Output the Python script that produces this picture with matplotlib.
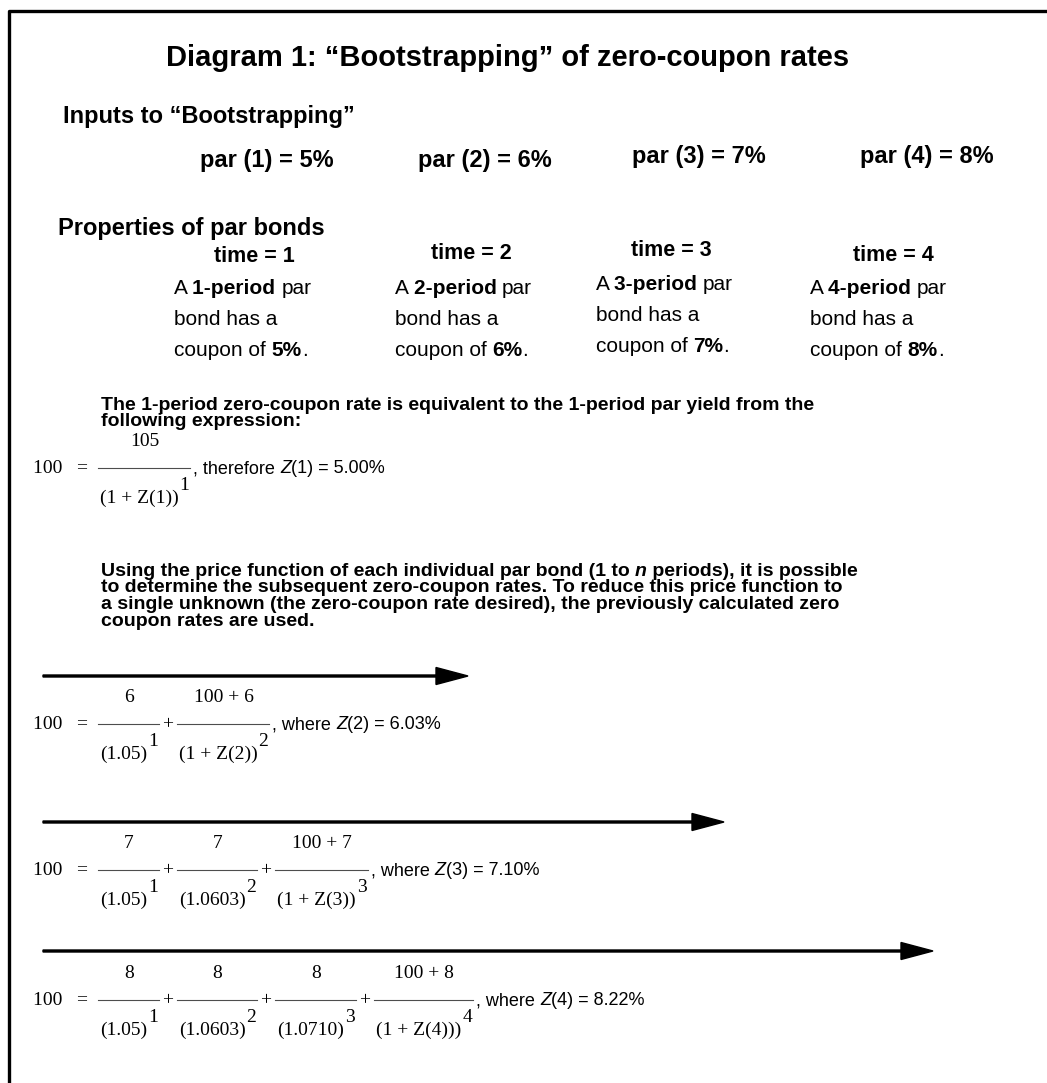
import matplotlib
matplotlib.use("Agg")
import matplotlib.pyplot as plt

W, H = 1047, 1083
SANS = "Liberation Sans"
SERIF = "Liberation Serif"

# ---- content ----
title = "Diagram 1: \u201cBootstrapping\u201d of zero-coupon rates"
periods = [1, 2, 3, 4]
par_rates = [5, 6, 7, 8]                 # par yields = coupons, %
zero_rates = [5.00, 6.03, 7.10, 8.22]    # bootstrapped Z(n), %
disc_labels = ["1.05", "1.0603", "1.0710"]  # (1 + Z(n)) reused in later equations

para1 = ["The 1-period zero-coupon rate is equivalent to the 1-period par yield from the",
         "following expression:"]
para2 = [[("Using the price function of each individual par bond (1 to ", "normal"),
          ("n", "italic"), (" periods), it is possible", "normal")],
         [("to determine the subsequent zero-coupon rates. To reduce this price function to", "normal")],
         [("a single unknown (the zero-coupon rate desired), the previously calculated zero", "normal")],
         [("coupon rates are used.", "normal")]]

# ---- layout ----
par_x = [200, 418, 632, 860]
par_y = [167, 167, 163, 163]
time_x = [214, 431, 631, 853]
time_y = [262, 259, 256, 261]
col_x = [174, 395, 596, 810]
col_y = [294, 294, 290, 294]
eq_y = [468, 724, 870, 1000]
arrow_end = [468, 724, 933]
arrow_y = [676, 822, 951]

fig = plt.figure(figsize=(W / 100, H / 100), dpi=100)
ax = fig.add_axes([0, 0, 1, 1])
ax.set_xlim(0, W)
ax.set_ylim(H, 0)
ax.axis("off")
r = fig.canvas.get_renderer()


def txt(x, y, s, size, weight="normal", style="normal", family=SANS, ha="left"):
    return ax.text(x, y, s, fontsize=size, fontweight=weight, fontstyle=style,
                   family=family, va="baseline", ha=ha)


def adv(s, size, weight="normal", style="normal", family=SANS):
    # advance width incl. trailing spaces (measured against a sentinel)
    t = txt(0, 0, s + "|", size, weight, style, family)
    w1 = t.get_window_extent(r).width
    t.set_text("|")
    w2 = t.get_window_extent(r).width
    t.remove()
    return w1 - w2


def rich(x, y, parts, size, family=SANS):
    for s, w, st in parts:
        txt(x, y, s, size, w, st, family)
        x += adv(s, size, w, st, family)
    return x


# frame (top and left edge only)
ax.plot([9, 9, W], [H, 11, 11], color="black", lw=2.4, solid_capstyle="butt")

txt(508, 66, title, 21, "bold", ha="center")
txt(63, 123, "Inputs to \u201cBootstrapping\u201d", 17, "bold")
for i, p in enumerate(periods):
    txt(par_x[i], par_y[i], f"par ({p}) = {par_rates[i]}%", 17, "bold")

txt(58, 235, "Properties of par bonds", 17, "bold")
for i, p in enumerate(periods):
    txt(time_x[i], time_y[i], f"time = {p}", 15.5, "bold")
    lines = [[("A ", "normal", "normal"), (f"{p}-period ", "bold", "normal"), ("par", "normal", "normal")],
             [("bond has a", "normal", "normal")],
             [("coupon of ", "normal", "normal"), (f"{par_rates[i]}%", "bold", "normal"), (".", "normal", "normal")]]
    for k, ln in enumerate(lines):
        rich(col_x[i], col_y[i] + 31 * k, ln, 15)

for k, ln in enumerate(para1):
    txt(101, 410 + 16.5 * k, ln, 14, "bold")
for k, ln in enumerate(para2):
    rich(101, 576 + 16.5 * k, [(s, "bold", st) for s, st in ln], 14)

ES = 14  # equation font size


def fraction(x, y0, num, den, exp):
    dw = adv(den, ES, family=SERIF)
    txt(x, y0 + 35, den, ES, family=SERIF)
    txt(x + dw + 1, y0 + 22, exp, ES, family=SERIF)
    total = dw + 1 + adv(exp, ES, family=SERIF)
    ax.plot([x - 2, x + total + 1], [y0, y0], color="0.3", lw=0.8)
    txt(x + total / 2, y0 - 22, num, ES, family=SERIF, ha="center")
    return x + total


def equation(n, y0):
    x = 33
    txt(x, y0 + 5, "100   =", ES, family=SERIF)
    x += adv("100   =  ", ES, family=SERIF) + 2
    c = par_rates[n - 1]
    for j in range(1, n):
        x = fraction(x, y0, f"{c}", f"({disc_labels[j - 1]})", f"{j}")
        txt(x + 4, y0 + 5, "+", ES, family=SERIF)
        x += 4 + adv("+", ES, family=SERIF) + 6
    close = ")))" if n == 4 else "))"
    x = fraction(x, y0, f"{100 + c}" if n == 1 else f"100 + {c}",
                 f"(1 + Z({n}{close}", f"{n}")
    word = ", therefore " if n == 1 else ", where "
    rich(x + 4, y0 + 5, [(word, "normal", "normal"), ("Z", "normal", "italic"),
                         (f"({n}) = {zero_rates[n - 1]:.2f}%", "normal", "normal")], 13)


for n in periods:
    equation(n, eq_y[n - 1])

for xe, ya in zip(arrow_end, arrow_y):
    ax.arrow(43, ya, xe - 43, 0, width=2, head_width=17, head_length=32,
             length_includes_head=True, fc="black", ec="black")

fig.savefig("out.png", dpi=100)
